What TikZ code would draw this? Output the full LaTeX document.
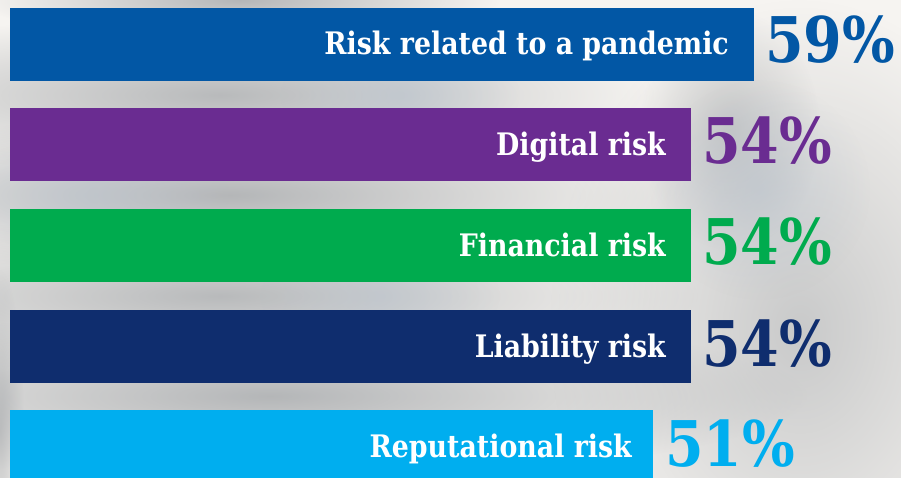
\documentclass[tikz,border=0pt]{standalone}
\usepackage{fontspec}
\newfontfamily\labelfont[FakeStretch=0.865]{DejaVu Serif}
\newfontfamily\numfont[FakeStretch=0.88]{DejaVu Serif}
\usetikzlibrary{fadings}
\tikzfading[name=softblob, inner color=transparent!0, outer color=transparent!100]
\definecolor{bgc}{HTML}{F6F4F1}
\definecolor{blobgray}{HTML}{A4A7AA}
\definecolor{blobblue}{HTML}{B8C2CD}
\definecolor{cblue}{HTML}{0257A5}
\definecolor{cpurple}{HTML}{6A2C91}
\definecolor{cgreen}{HTML}{00AB4E}
\definecolor{cnavy}{HTML}{0F2D6E}
\definecolor{clight}{HTML}{00AEEF}
\tikzset{
  bar/.style={rectangle, inner sep=0pt, outer sep=0pt, minimum height=73pt, anchor=north west},
  barlabel/.style={anchor=base east, inner sep=0pt, text=white, font=\labelfont\bfseries\fontsize{31}{32}\selectfont},
  pct/.style={anchor=base west, inner sep=0pt, font=\numfont\bfseries\fontsize{63}{63}\selectfont},
  blob/.style={path fading=softblob}
}
\begin{document}
\begin{tikzpicture}[x=1pt,y=-1pt]
\fill[bgc] (0,0) rectangle (901,478);
\useasboundingbox (0,0) rectangle (901,478);
% blurred background
\fill[blobgray, opacity=.8, blob] (240,0) ellipse (260 and 40);
\fill[blobgray, opacity=.75, blob] (220,95) ellipse (440 and 80);
\fill[blobblue, opacity=.6, blob] (400,95) ellipse (120 and 60);
\fill[blobgray, opacity=.8, blob] (230,195) ellipse (460 and 80);
\fill[blobblue, opacity=.5, blob] (90,195) ellipse (140 and 60);
\fill[blobgray, opacity=.75, blob] (220,296) ellipse (480 and 80);
\fill[blobblue, opacity=.5, blob] (380,296) ellipse (120 and 60);
\fill[blobgray, opacity=.8, blob] (270,396) ellipse (540 and 84);
\fill[blobgray, opacity=.55, blob] (800,330) ellipse (250 and 330);
\fill[blobgray, opacity=.5, blob] (730,130) ellipse (90 and 120);
\fill[blobblue, opacity=.5, blob] (760,190) ellipse (110 and 110);
\fill[blobgray, opacity=.6, blob] (0,430) ellipse (24 and 160);
% bars
\node[bar, fill=cblue,   minimum width=744pt] (b1) at (10,8) {};
\node[bar, fill=cpurple, minimum width=681pt] (b2) at (10,108) {};
\node[bar, fill=cgreen,  minimum width=681pt] (b3) at (10,209) {};
\node[bar, fill=cnavy,   minimum width=681pt] (b4) at (10,310) {};
\node[bar, fill=clight,  minimum width=643pt] (b5) at (10,410) {};
% labels
\node[barlabel] (l1) at ([xshift=-25pt,yshift=-10pt]b1.east) {Risk related to a pandemic};
\node[barlabel] (l2) at ([xshift=-25pt,yshift=-11pt]b2.east) {Digital risk};
\node[barlabel] (l3) at ([xshift=-25pt,yshift=-11pt]b3.east) {Financial risk};
\node[barlabel] (l4) at ([xshift=-25pt,yshift=-11pt]b4.east) {Liability risk};
\node[barlabel] (l5) at ([xshift=-21pt,yshift=-11pt]b5.east) {Reputational risk};
% percentages
\node[pct, text=cblue]   (p1) at ([xshift=11pt,yshift=-18pt]b1.east) {59\%};
\node[pct, text=cpurple] (p2) at ([xshift=11pt,yshift=-19pt]b2.east) {54\%};
\node[pct, text=cgreen]  (p3) at ([xshift=11pt,yshift=-19pt]b3.east) {54\%};
\node[pct, text=cnavy]   (p4) at ([xshift=11pt,yshift=-20pt]b4.east) {54\%};
\node[pct, text=clight]  (p5) at ([xshift=12pt,yshift=-20pt]b5.east) {51\%};
\end{tikzpicture}
\end{document}
